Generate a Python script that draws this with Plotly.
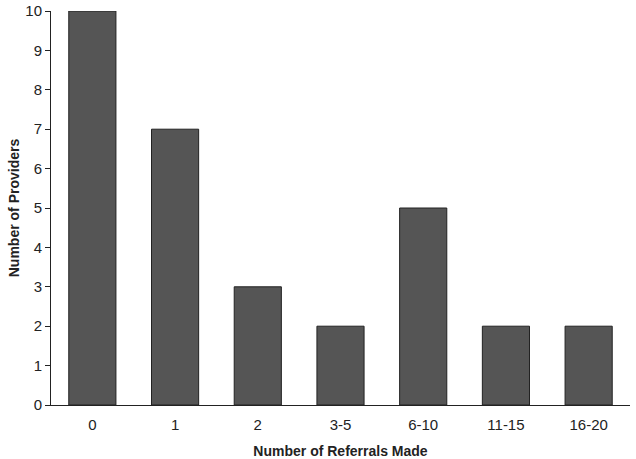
import plotly.graph_objects as go

categories = ["0", "1", "2", "3-5", "6-10", "11-15", "16-20"]
providers = [10, 7, 3, 2, 5, 2, 2]
y_ticks = list(range(0, 11))

fig = go.Figure(go.Bar(
    x=categories, y=providers, width=0.57,
    marker=dict(color="#555555", line=dict(color="#222222", width=1)),
))
fig.update_layout(
    width=636, height=459,
    margin=dict(l=51, r=6, t=11, b=54),
    paper_bgcolor="white", plot_bgcolor="white",
    font=dict(family="Liberation Sans, Arial, sans-serif", size=15, color="#222"),
    showlegend=False,
)
fig.update_xaxes(
    showline=True, linecolor="#222", linewidth=1, ticks="", automargin=False,
    showgrid=False, tickfont=dict(size=15), ticklabelstandoff=6,
    title=dict(text="<b>Number of Referrals Made</b>", font=dict(size=14), standoff=14),
)
fig.update_yaxes(
    range=[0, 10], tickvals=y_ticks, showline=True, linecolor="#222", linewidth=1,
    ticks="outside", ticklen=5, tickcolor="#222", showgrid=False, zeroline=False,
    tickfont=dict(size=15), automargin=False,
    title=dict(text="<b>Number of Providers</b>", font=dict(size=14), standoff=2),
)
fig.write_html("out.html", config={"displayModeBar": False},
               post_script="document.body.style.margin='0';")
